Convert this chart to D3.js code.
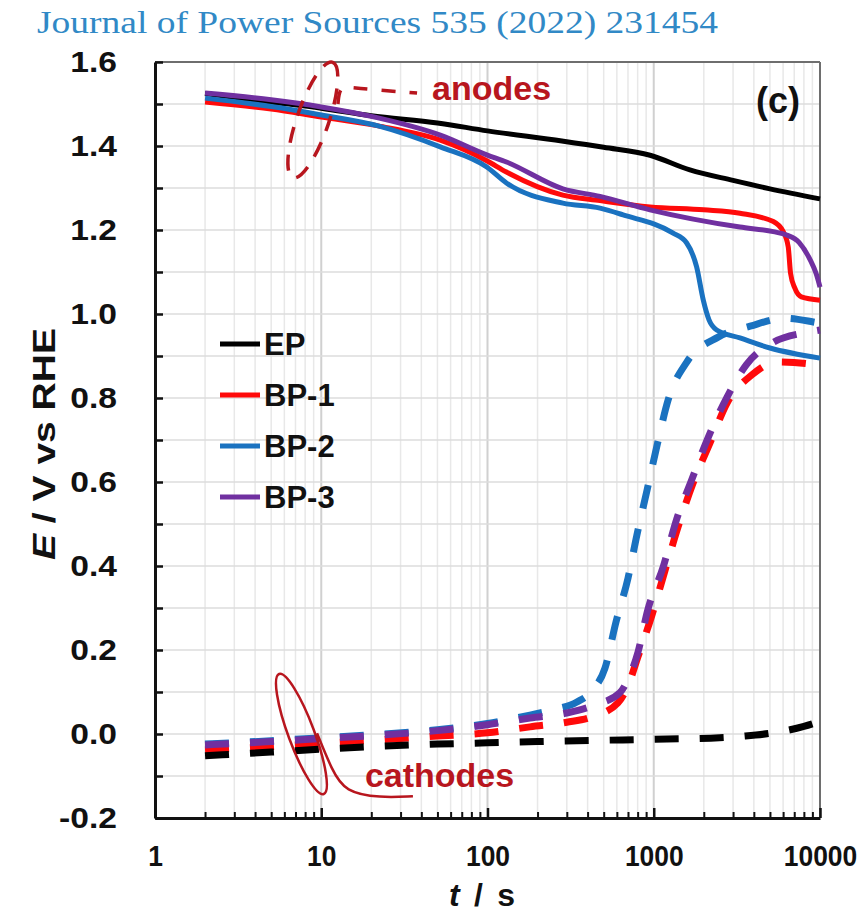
<!DOCTYPE html>
<html><head><meta charset="utf-8">
<script src="https://cdn.jsdelivr.net/npm/d3@7"></script>
<style>body{margin:0;background:#fff}</style>
</head><body>
<svg id="chart" width="867" height="918"></svg>
<script>
// ---------------- data ----------------
const headerText = "Journal of Power Sources 535 (2022) 231454";
const panelLabel = "(c)";
const seriesNames = ["EP", "BP-1", "BP-2", "BP-3"];
const xTickLabels = ["1", "10", "100", "1000", "10000"];
const xTickValues = [1, 10, 100, 1000, 10000];
const yTickLabels = ["-0.2", "0.0", "0.2", "0.4", "0.6", "0.8", "1.0", "1.2", "1.4", "1.6"];
const yTickValues = [-0.2, 0.0, 0.2, 0.4, 0.6, 0.8, 1.0, 1.2, 1.4, 1.6];

// anodes (solid)
const anodeEP_t = [2, 5, 10, 20, 50, 100, 280, 500, 950, 1650, 3000, 5000, 10000];
const anodeEP_E = [1.525, 1.505, 1.49, 1.472, 1.455, 1.436, 1.412, 1.397, 1.378, 1.343, 1.318, 1.298, 1.274];
const anodeBP1_t = [2, 5, 10, 22, 52, 99, 130, 284, 475, 949, 2000, 3300, 5240, 6010, 6440, 6650, 7050, 7720, 10000];
const anodeBP1_E = [1.505, 1.488, 1.469, 1.448, 1.414, 1.365, 1.338, 1.283, 1.27, 1.255, 1.248, 1.24, 1.22, 1.196, 1.16, 1.097, 1.062, 1.041, 1.033];
const anodeBP2_t = [2, 5, 10, 22, 52, 99, 130, 284, 475, 654, 1300, 1578, 1811, 1986, 2150, 2390, 3300, 5000, 10000];
const anodeBP2_E = [1.514, 1.494, 1.474, 1.448, 1.398, 1.35, 1.312, 1.264, 1.252, 1.236, 1.193, 1.169, 1.112, 1.033, 0.986, 0.962, 0.943, 0.919, 0.895];
const anodeBP3_t = [2, 5, 10, 22, 52, 99, 130, 284, 475, 949, 3300, 5240, 6300, 7500, 8700, 9500, 10000];
const anodeBP3_E = [1.526, 1.51, 1.493, 1.467, 1.426, 1.379, 1.362, 1.298, 1.28, 1.248, 1.207, 1.196, 1.188, 1.17, 1.13, 1.095, 1.064];

// cathodes (dashed)
const cathEP_t = [2, 5, 10, 20, 50, 100, 200, 650, 1200, 2200, 3500, 5700, 8000, 10000];
const cathEP_E = [-0.052, -0.043, -0.036, -0.03, -0.024, -0.021, -0.018, -0.014, -0.012, -0.01, -0.005, 0.005, 0.018, 0.03];
const cathBP1_t = [2, 5, 10, 20, 50, 100, 180, 300, 420, 609, 700, 804, 975, 1170, 1400, 1722, 2180, 2760, 3890, 5500, 8700, 10000];
const cathBP1_E = [-0.038, -0.03, -0.022, -0.015, -0.005, 0.003, 0.017, 0.028, 0.04, 0.074, 0.115, 0.184, 0.283, 0.39, 0.493, 0.597, 0.693, 0.788, 0.855, 0.886, 0.881, 0.875];
const cathBP2_t = [2, 5, 10, 20, 50, 100, 180, 250, 345, 430, 509, 593, 700, 792, 912, 1048, 1220, 1584, 2440, 3800, 6140, 9100, 10000];
const cathBP2_E = [-0.024, -0.016, -0.009, -0.002, 0.01, 0.025, 0.045, 0.058, 0.076, 0.105, 0.157, 0.267, 0.371, 0.474, 0.581, 0.688, 0.795, 0.886, 0.945, 0.971, 0.99, 0.981, 0.978];
const cathBP3_t = [2, 5, 10, 20, 50, 100, 180, 300, 450, 625, 700, 804, 920, 1140, 1370, 1690, 2130, 2760, 3600, 5150, 8500, 10000];
const cathBP3_E = [-0.026, -0.018, -0.011, -0.004, 0.008, 0.022, 0.038, 0.05, 0.07, 0.098, 0.13, 0.195, 0.295, 0.398, 0.51, 0.605, 0.707, 0.802, 0.879, 0.931, 0.957, 0.962];

// annotation anchors (data coordinates)
const anodeLoopCenter = [8.9, 1.462];
const anodeTail = [[12.6, 1.5], [12.9, 1.543], [15.3, 1.538], [37.7, 1.526]];
const anodeTextAt = [46.4, 1.5095];
const cathLoopCenter = [7.6, 0.0];
const cathTail = [[9.43, 0.002], [11.6, -0.086], [13.9, -0.138], [22.6, -0.152], [35.6, -0.148]];
const cathTextAt = [18.3, -0.12];

// ---------------- style ----------------
const colors = {"EP": "#000000", "BP-1": "#ff0a0a", "BP-2": "#1a72c0", "BP-3": "#7030a0"};
const annoColor = "#b8161e";
const fontSans = "'Liberation Sans', Arial, sans-serif";

const anodes = [
  {name: "EP", t: anodeEP_t, E: anodeEP_E},
  {name: "BP-1", t: anodeBP1_t, E: anodeBP1_E},
  {name: "BP-2", t: anodeBP2_t, E: anodeBP2_E},
  {name: "BP-3", t: anodeBP3_t, E: anodeBP3_E}
];
const cathodes = [
  {name: "BP-2", t: cathBP2_t, E: cathBP2_E},
  {name: "BP-1", t: cathBP1_t, E: cathBP1_E},
  {name: "BP-3", t: cathBP3_t, E: cathBP3_E},
  {name: "EP", t: cathEP_t, E: cathEP_E}
];

const svg = d3.select("#chart");
const x = d3.scaleLog().domain([1, 10000]).range([155, 820]);
const y = d3.scaleLinear().domain([-0.2, 1.6]).range([818, 62]);

// header
svg.append("text").attr("x", 37).attr("y", 33)
  .attr("font-family", "'Liberation Serif', 'DejaVu Serif', serif")
  .attr("font-size", 31).attr("fill", "#3189c6")
  .attr("textLength", 681).attr("lengthAdjust", "spacingAndGlyphs")
  .text(headerText);

// grid
const minorT = [];
for (let k = 0; k < 4; k++) for (let m = 2; m <= 9; m++) minorT.push(m * Math.pow(10, k));
const grid = svg.append("g");
grid.selectAll(".vmin").data(minorT).join("line")
  .attr("x1", d => x(d)).attr("x2", d => x(d)).attr("y1", y(1.6)).attr("y2", y(-0.2))
  .attr("stroke", "#e8e8e8").attr("stroke-width", 1.5);
grid.selectAll(".vmaj").data([10, 100, 1000]).join("line")
  .attr("x1", d => x(d)).attr("x2", d => x(d)).attr("y1", y(1.6)).attr("y2", y(-0.2))
  .attr("stroke", "#d0d0d0").attr("stroke-width", 2);
const hT = d3.range(-1, 16).map(i => i / 10);
grid.selectAll(".h").data(hT).join("line")
  .attr("x1", x(1)).attr("x2", x(10000)).attr("y1", d => y(d)).attr("y2", d => y(d))
  .attr("stroke", "#dcdcdc").attr("stroke-width", 1.5);

// frame top/right
svg.append("line").attr("x1", x(1)).attr("x2", x(10000)).attr("y1", y(1.6)).attr("y2", y(1.6))
  .attr("stroke", "#6e6e6e").attr("stroke-width", 2);
svg.append("line").attr("x1", x(10000)).attr("x2", x(10000)).attr("y1", y(1.6)).attr("y2", y(-0.2))
  .attr("stroke", "#6e6e6e").attr("stroke-width", 2);

// lines
const line = d3.line().x(d => x(d[0])).y(d => y(d[1])).curve(d3.curveMonotoneX);
const toPts = s => s.t.map((t, i) => [t, s.E[i]]);

svg.append("g").selectAll("path").data(anodes).join("path")
  .attr("d", s => line(toPts(s)))
  .attr("fill", "none").attr("stroke", s => colors[s.name])
  .attr("stroke-width", 5).attr("stroke-linejoin", "round").attr("stroke-linecap", "butt");

svg.append("g").selectAll("path").data(cathodes).join("path")
  .attr("d", s => line(toPts(s)))
  .attr("fill", "none").attr("stroke", s => colors[s.name])
  .attr("stroke-width", 7).attr("stroke-dasharray", "24,21").attr("stroke-linecap", "butt");

// axes
const yAxis = d3.axisLeft(y).tickValues(d3.range(-2, 17).map(i => i / 10))
  .tickSizeInner(-8).tickSizeOuter(0).tickPadding(38)
  .tickFormat(d => {
    const i = yTickValues.findIndex(v => Math.abs(v - d) < 1e-6);
    return i >= 0 ? yTickLabels[i] : "";
  });
const gy = svg.append("g").attr("transform", `translate(${x(1)},0)`).call(yAxis);
gy.select(".domain").attr("stroke", "#111").attr("stroke-width", 3);
gy.selectAll(".tick line").attr("stroke", "#111").attr("stroke-width", 2.5);
gy.selectAll(".tick text").attr("font-family", fontSans).attr("font-weight", "bold")
  .attr("font-size", 30).attr("fill", "#111")
  .each(function() {
    const w = this.getComputedTextLength();
    if (w > 0) d3.select(this).attr("textLength", w * 1.12).attr("lengthAdjust", "spacingAndGlyphs");
  });

const xMinorAxis = d3.axisBottom(x).tickValues(minorT).tickSizeInner(-6).tickSizeOuter(0).tickFormat("");
const gxm = svg.append("g").attr("transform", `translate(0,${y(-0.2)})`).call(xMinorAxis);
gxm.select(".domain").remove();
gxm.selectAll(".tick line").attr("stroke", "#111").attr("stroke-width", 2);

const xAxis = d3.axisBottom(x).tickValues(xTickValues).tickSizeInner(-10).tickSizeOuter(0).tickPadding(27)
  .tickFormat((d, i) => xTickLabels[i]);
const gx = svg.append("g").attr("transform", `translate(0,${y(-0.2)})`).call(xAxis);
gx.select(".domain").attr("stroke", "#111").attr("stroke-width", 3);
gx.selectAll(".tick line").attr("stroke", "#111").attr("stroke-width", 2.5);
gx.selectAll(".tick text").attr("font-family", fontSans).attr("font-weight", "bold")
  .attr("font-size", 30).attr("fill", "#111")
  .each(function() {
    const w = this.getComputedTextLength();
    if (w > 0) d3.select(this).attr("textLength", w * 0.88).attr("lengthAdjust", "spacingAndGlyphs");
  });

// axis titles
const yt = svg.append("text").attr("transform", "translate(55,444) rotate(-90)")
  .attr("text-anchor", "middle").attr("font-family", fontSans).attr("font-weight", "bold")
  .attr("font-size", 31).attr("fill", "#111")
  .attr("textLength", 232).attr("lengthAdjust", "spacingAndGlyphs");
yt.append("tspan").attr("font-style", "italic").text("E");
yt.append("tspan").text(" / V vs RHE");

const xt = svg.append("text").attr("x", 482).attr("y", 906)
  .attr("text-anchor", "middle").attr("font-family", fontSans).attr("font-weight", "bold")
  .attr("font-size", 32).attr("fill", "#111")
  .attr("textLength", 66).attr("lengthAdjust", "spacing");
xt.append("tspan").attr("font-style", "italic").text("t");
xt.append("tspan").text(" / s");

// panel label
svg.append("text").attr("x", 800).attr("y", 113).attr("text-anchor", "end")
  .attr("font-family", fontSans).attr("font-weight", "bold").attr("font-size", 36)
  .attr("fill", "#111").text(panelLabel);

// legend
const lg = svg.append("g");
seriesNames.forEach((n, i) => {
  const yy = 344 + i * 51;
  lg.append("line").attr("x1", 220).attr("x2", 260).attr("y1", yy).attr("y2", yy)
    .attr("stroke", colors[n]).attr("stroke-width", 5);
  lg.append("text").attr("x", 264).attr("y", yy + 11)
    .attr("font-family", fontSans).attr("font-weight", "bold").attr("font-size", 31)
    .attr("fill", "#111").text(n);
});

// annotations
const ac = [x(anodeLoopCenter[0]), y(anodeLoopCenter[1])];
svg.append("ellipse").attr("cx", 0).attr("cy", 0).attr("rx", 61).attr("ry", 16)
  .attr("transform", `translate(${ac[0]},${ac[1]}) rotate(-71)`)
  .attr("fill", "none").attr("stroke", annoColor).attr("stroke-width", 3.5)
  .attr("stroke-dasharray", "16,12");
const tailLine = d3.line().x(d => x(d[0])).y(d => y(d[1])).curve(d3.curveBasis);
svg.append("path").attr("d", tailLine(anodeTail))
  .attr("fill", "none").attr("stroke", annoColor).attr("stroke-width", 3.5)
  .attr("stroke-dasharray", "14,14");
svg.append("text").attr("x", x(anodeTextAt[0])).attr("y", y(anodeTextAt[1]))
  .attr("font-family", fontSans).attr("font-weight", "bold").attr("font-size", 34)
  .attr("fill", annoColor).text("anodes");

const cc = [x(cathLoopCenter[0]), y(cathLoopCenter[1])];
svg.append("ellipse").attr("cx", 0).attr("cy", 0).attr("rx", 64).attr("ry", 13)
  .attr("transform", `translate(${cc[0]},${cc[1]}) rotate(69.6)`)
  .attr("fill", "none").attr("stroke", annoColor).attr("stroke-width", 2.5);
svg.append("path").attr("d", tailLine(cathTail))
  .attr("fill", "none").attr("stroke", annoColor).attr("stroke-width", 2.5);
svg.append("text").attr("x", x(cathTextAt[0])).attr("y", y(cathTextAt[1]) + 3)
  .attr("font-family", fontSans).attr("font-weight", "bold").attr("font-size", 34)
  .attr("fill", annoColor).text("cathodes");
</script>
</body></html>
